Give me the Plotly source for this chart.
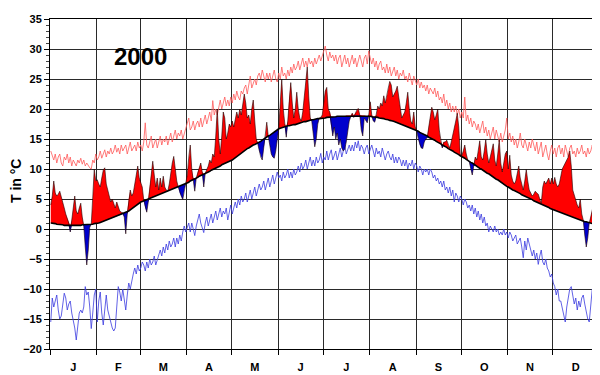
import plotly.graph_objects as go

month_labels = ["J", "F", "M", "A", "M", "J", "J", "A", "S", "O", "N", "D"]
month_starts = [0, 31, 60, 91, 121, 152, 182, 213, 244, 274, 305, 335, 366]
y_ticks = [-20, -15, -10, -5, 0, 5, 10, 15, 20, 25, 30, 35]
year_label = "2000"
y_title = "T in °C"

# long-term mean daily temperature (black line)
clim = [
    1.0, 1.0, 0.9, 0.9, 0.8, 0.8, 0.8, 0.7, 0.7, 0.6,
    0.6, 0.6, 0.5, 0.5, 0.5, 0.5, 0.5, 0.6, 0.6, 0.6,
    0.6, 0.7, 0.7, 0.7, 0.7, 0.7, 0.8, 0.8, 0.8, 0.9,
    0.9, 0.9, 1.0, 1.1, 1.2, 1.3, 1.4, 1.5, 1.5, 1.6,
    1.8, 1.9, 2.0, 2.1, 2.1, 2.2, 2.3, 2.4, 2.5, 2.6,
    2.8, 2.9, 3.0, 3.2, 3.4, 3.6, 3.8, 4.0, 4.2, 4.4,
    4.5, 4.6, 4.7, 4.8, 4.9, 5.0, 5.1, 5.3, 5.4, 5.5,
    5.6, 5.7, 5.7, 5.8, 5.9, 6.0, 6.1, 6.2, 6.3, 6.4,
    6.6, 6.7, 6.8, 6.9, 7.0, 7.0, 7.1, 7.2, 7.3, 7.4,
    7.5, 7.7, 7.8, 8.0, 8.1, 8.2, 8.4, 8.5, 8.6, 8.8,
    8.9, 9.0, 9.2, 9.3, 9.4, 9.5, 9.6, 9.8, 9.9, 10.0,
    10.1, 10.3, 10.4, 10.5, 10.7, 10.8, 10.9, 11.1, 11.2, 11.3,
    11.4, 11.5, 11.7, 11.9, 12.1, 12.3, 12.4, 12.6, 12.8, 13.0,
    13.2, 13.4, 13.5, 13.7, 13.8, 14.0, 14.1, 14.2, 14.4, 14.5,
    14.6, 14.8, 15.0, 15.2, 15.3, 15.5, 15.6, 15.8, 15.9, 16.1,
    16.3, 16.5, 16.7, 16.8, 16.9, 17.0, 17.0, 17.1, 17.2, 17.2,
    17.3, 17.3, 17.4, 17.4, 17.5, 17.5, 17.6, 17.7, 17.8, 17.9,
    17.9, 18.0, 18.0, 18.1, 18.2, 18.2, 18.3, 18.3, 18.4, 18.4,
    18.4, 18.5, 18.5, 18.5, 18.6, 18.6, 18.6, 18.7, 18.7, 18.7,
    18.7, 18.8, 18.8, 18.8, 18.8, 18.8, 18.8, 18.9, 18.9, 18.9,
    18.9, 18.9, 18.9, 18.9, 18.9, 18.9, 18.9, 18.9, 18.9, 18.9,
    18.8, 18.8, 18.8, 18.8, 18.7, 18.7, 18.7, 18.6, 18.6, 18.5,
    18.5, 18.4, 18.4, 18.3, 18.3, 18.2, 18.1, 18.1, 18.0, 17.9,
    17.8, 17.7, 17.6, 17.6, 17.5, 17.4, 17.3, 17.2, 17.1, 17.0,
    16.9, 16.8, 16.7, 16.5, 16.4, 16.3, 16.1, 16.0, 15.9, 15.7,
    15.6, 15.5, 15.3, 15.2, 15.0, 14.9, 14.8, 14.6, 14.5, 14.3,
    14.2, 14.0, 13.9, 13.7, 13.6, 13.4, 13.3, 13.1, 13.0, 12.8,
    12.7, 12.5, 12.4, 12.2, 12.1, 11.9, 11.8, 11.6, 11.4, 11.3,
    11.1, 11.0, 10.8, 10.6, 10.5, 10.3, 10.1, 10.0, 9.8, 9.7,
    9.5, 9.3, 9.2, 9.0, 8.8, 8.7, 8.5, 8.3, 8.2, 8.0,
    7.8, 7.7, 7.5, 7.3, 7.1, 7.0, 6.8, 6.7, 6.5, 6.4,
    6.3, 6.1, 6.0, 5.9, 5.7, 5.6, 5.5, 5.3, 5.2, 5.1,
    5.0, 4.9, 4.7, 4.6, 4.5, 4.4, 4.3, 4.1, 4.0, 3.9,
    3.8, 3.7, 3.6, 3.4, 3.3, 3.2, 3.1, 3.0, 2.9, 2.8,
    2.7, 2.6, 2.5, 2.4, 2.3, 2.2, 2.1, 2.0, 1.9, 1.8,
    1.8, 1.7, 1.6, 1.5, 1.4, 1.3, 1.2, 1.2, 1.1, 1.0,
    1.0, 0.9, 0.9, 0.8, 0.8, 0.8,
]

# daily mean temperature of the year 2000
temp = [
    4.0, 5.5, 8.0, 6.0, 5.5, 5.8, 6.3, 5.5, 4.5, 3.5,
    2.5, 1.8, 1.0, -0.5, 1.5, 3.5, 5.5, 3.0, 2.5, 3.5,
    4.3, 2.0, 0.5, -3.0, -6.0, -3.5, 0.3, 0.8, 5.0, 10.0,
    8.0, 8.2, 7.5, 7.0, 8.5, 9.8, 10.2, 7.5, 6.5, 5.5,
    4.5, 5.0, 4.0, 3.5, 4.5, 3.8, 3.0, 2.8, 2.7, 2.0,
    -0.8, 2.5, 5.0, 6.5, 5.5, 6.0, 7.5, 9.5, 10.5, 8.5,
    7.5, 7.0, 4.8, 3.5, 2.8, 4.5, 7.0, 9.5, 11.3, 9.0,
    7.0, 8.5, 6.5, 8.5, 7.0, 8.8, 7.0, 6.5, 6.3, 7.5,
    9.5, 11.0, 12.1, 10.0, 8.0, 7.0, 6.0, 5.5, 4.9, 6.5,
    7.6, 9.0, 12.0, 14.0, 10.0, 8.5, 6.3, 8.5, 9.5, 10.5,
    11.0, 9.5, 7.0, 9.3, 9.8, 10.5, 11.5, 11.0, 12.5, 12.0,
    15.5, 20.0, 15.0, 12.5, 15.5, 19.5, 18.5, 15.0, 16.0, 17.5,
    17.0, 18.0, 17.0, 18.0, 19.5, 18.5, 20.0, 19.0, 21.0, 22.5,
    21.0, 18.5, 19.0, 17.5, 20.0, 21.5, 18.0, 15.0, 14.2, 13.0,
    12.0, 11.5, 13.5, 15.0, 17.8, 15.5, 14.0, 12.5, 12.0, 11.8,
    13.0, 15.0, 16.7, 21.0, 25.0, 20.0, 17.5, 15.3, 18.0, 22.0,
    24.4, 21.0, 18.5, 20.0, 22.8, 20.0, 18.5, 18.0, 19.5, 22.0,
    25.0, 27.0, 22.0, 18.5, 18.0, 16.0, 13.7, 15.0, 17.5, 18.5,
    18.6, 19.0, 21.0, 23.0, 23.6, 20.0, 19.5, 17.0, 15.5, 17.0,
    15.0, 16.0, 14.0, 15.0, 13.5, 13.0, 13.3, 14.5, 16.5, 18.0,
    18.7, 19.3, 18.6, 19.3, 19.8, 20.1, 19.0, 16.5, 15.5, 18.5,
    18.0, 17.7, 19.0, 21.2, 19.0, 18.0, 17.8, 19.0, 20.5, 20.0,
    21.0, 20.5, 22.2, 21.0, 22.0, 23.5, 24.6, 24.0, 22.0, 22.5,
    23.0, 23.8, 22.0, 20.0, 18.5, 19.0, 19.5, 21.0, 22.8, 20.0,
    18.0, 17.5, 19.5, 17.0, 16.3, 15.0, 14.0, 13.5, 13.4, 14.5,
    15.0, 15.2, 17.0, 19.0, 20.3, 19.5, 18.2, 19.0, 20.0, 16.5,
    14.6, 13.5, 14.5, 14.5, 14.8, 14.0, 13.5, 14.5, 15.5, 16.5,
    18.0, 19.3, 17.0, 12.5, 12.2, 13.0, 14.0, 12.5, 11.5, 11.2,
    10.0, 9.0, 10.5, 12.0, 11.5, 13.0, 14.7, 12.0, 11.5, 13.0,
    14.9, 12.5, 11.0, 12.0, 13.0, 14.2, 11.5, 10.5, 12.5, 14.9,
    11.0, 9.5, 11.0, 12.5, 13.0, 10.0, 12.3, 9.0, 8.0, 7.5,
    8.0, 9.0, 10.5, 8.5, 7.5, 6.5, 8.0, 9.9, 8.0, 6.5,
    6.0, 5.5, 5.8, 6.3, 6.0, 5.8, 5.0, 4.3, 7.0, 8.0,
    7.5, 8.0, 8.5, 7.5, 8.5, 7.5, 8.6, 7.5, 7.0, 7.5,
    9.0, 10.0, 10.5, 11.0, 11.5, 12.0, 13.0, 10.5, 6.5, 5.5,
    5.0, 4.0, 3.5, 5.0, 2.5, 1.5, -1.0, -3.0, -1.5, 1.0,
    2.0, 3.0, 4.3, 1.5, 0.3, 0.5,
]

# highest daily mean on record (thin red line)
rec_max = [
    13.0, 12.0, 11.5, 12.5, 11.0, 12.0, 12.5, 11.0, 10.5, 12.0,
    11.5, 12.5, 11.0, 12.0, 10.5, 11.5, 11.0, 10.5, 11.5, 11.0,
    11.8, 10.8, 11.5, 10.5, 11.0, 10.5, 10.2, 10.0, 11.5, 11.0,
    12.5, 11.5, 12.0, 13.0, 11.8, 12.5, 13.2, 12.0, 13.0, 12.5,
    13.5, 12.5, 13.0, 14.0, 12.8, 13.5, 12.5, 14.0, 13.0, 13.5,
    14.0, 12.5, 13.5, 14.5, 13.0, 13.5, 14.0, 13.0, 14.5, 13.5,
    14.0, 13.0, 14.5, 17.7, 14.0, 13.5, 14.5, 15.5, 13.5, 14.5,
    15.0, 13.5, 14.5, 15.5, 14.0, 15.0, 14.5, 15.5, 14.0, 15.0,
    16.0, 14.5, 15.5, 16.5, 15.0, 16.0, 15.5, 16.5, 15.0, 16.0,
    16.5, 17.5, 18.5, 16.5, 17.0, 18.0, 16.5, 17.5, 18.0, 17.0,
    18.5, 17.0, 18.0, 19.0, 17.5, 18.5, 19.5, 18.0, 21.4, 19.0,
    20.0, 19.0, 20.5, 21.5, 20.0, 21.0, 22.0, 20.5, 21.5, 20.5,
    22.0, 21.0, 22.5, 21.5, 23.0, 22.0, 21.5, 23.0, 22.5, 23.5,
    24.0, 22.5, 24.5, 25.5, 23.5, 24.5, 25.0, 24.0, 25.5, 26.0,
    25.0, 26.5, 25.5, 24.5, 26.0, 25.0, 26.0, 24.5, 25.5, 26.5,
    25.0, 24.5, 26.0, 25.0, 27.0, 25.5, 26.0, 25.0, 26.5, 25.5,
    27.0, 26.0, 27.5, 26.5, 27.0, 28.0, 26.5, 27.5, 28.5, 27.0,
    28.0, 27.0, 28.5, 27.5, 28.0, 27.0, 28.5, 27.5, 28.5, 29.0,
    28.0, 29.0, 29.5, 30.5, 29.0, 28.0, 29.5, 28.5, 29.0, 28.0,
    29.0, 27.5, 28.5, 29.0, 27.0, 28.0, 29.0, 27.5, 28.5, 27.0,
    28.0, 29.0, 27.5, 28.5, 27.0, 28.0, 29.0, 28.0, 27.0, 28.5,
    29.0, 27.5, 29.7, 28.5, 27.5, 28.5, 27.0, 28.0, 26.5, 27.5,
    28.0, 26.5, 27.0, 26.0, 27.5, 26.0, 27.0, 25.5, 26.5, 27.0,
    25.5, 26.5, 25.0, 26.0, 25.5, 26.5, 25.0, 25.5, 24.5, 26.0,
    25.0, 24.0, 25.5, 24.5, 24.0, 25.0, 23.5, 24.5, 23.5, 24.0,
    23.0, 24.0, 22.5, 23.5, 23.0, 22.5, 23.5, 22.0, 23.0, 21.5,
    22.0, 21.0, 22.5, 20.5, 21.5, 20.0, 21.0, 19.5, 20.5, 19.5,
    20.5, 19.0, 20.0, 18.5, 19.5, 18.5, 22.0, 18.0, 19.0, 17.5,
    18.5, 17.0, 18.0, 17.5, 16.5, 17.5, 16.0, 17.0, 18.0, 16.0,
    17.0, 15.5, 16.5, 15.0, 16.0, 17.0, 15.0, 16.5, 15.5, 14.5,
    16.0, 14.5, 15.5, 16.5, 18.5, 15.0, 16.0, 14.5, 15.5, 14.0,
    15.0, 13.5, 14.5, 16.0, 14.0, 13.5, 15.0, 14.0, 13.0, 14.5,
    13.5, 15.0, 14.0, 13.0, 14.5, 12.5, 13.5, 14.5, 12.0, 13.0,
    14.0, 12.5, 11.5, 13.0, 14.0, 12.5, 13.5, 12.0, 13.5, 14.0,
    12.5, 13.5, 12.0, 14.0, 13.0, 12.0, 13.5, 14.0, 12.5, 13.0,
    12.0, 13.5, 12.5, 13.0, 14.0, 12.5, 13.0, 12.0, 13.5, 12.5,
    13.0, 14.0, 12.5, 13.5, 13.0, 14.0,
]

# lowest daily mean on record (thin blue line)
rec_min = [
    -15.5, -11.5, -13.0, -12.0, -11.0, -13.5, -15.0, -14.5, -12.0, -10.7,
    -11.5, -13.5, -12.5, -12.0, -14.0, -15.0, -16.5, -18.5, -16.0, -14.0,
    -13.5, -14.0, -13.0, -9.6, -11.0, -10.5, -13.0, -16.6, -14.0, -11.0,
    -10.0, -15.5, -12.0, -10.5, -14.0, -16.0, -13.5, -11.0, -13.5, -14.5,
    -16.0, -16.5, -17.0, -16.5, -13.0, -9.6, -10.5, -12.0, -10.0, -11.5,
    -13.5, -11.0, -9.0, -10.0, -8.5, -7.5, -6.5, -7.5, -6.0, -7.0,
    -6.5, -5.5, -6.0, -7.0, -5.5, -6.5, -5.0, -6.0, -5.5, -4.5,
    -6.0, -5.0, -4.0, -3.5, -4.5, -3.0, -4.0, -2.5, -3.5, -2.0,
    -3.0, -2.5, -1.5, -3.0, -1.5, -2.5, -1.0, -2.0, -0.5, 0.5,
    -0.5, 0.5, 1.0, -0.5, 1.0, 0.0, -1.1, 0.5, 1.5, 2.5,
    1.0, 0.0, -0.6, 1.0, 2.0, 0.5, 1.5, 2.5, 1.0, 2.0,
    3.0, 1.5, 2.5, 3.5, 2.0, 3.0, 2.5, 3.5, 1.5, 3.0,
    4.0, 2.5, 3.5, 4.5, 3.5, 5.0, 4.0, 5.5, 4.5, 5.0,
    6.0, 4.5, 5.5, 6.5, 5.0, 6.0, 7.0, 5.5, 6.5, 7.5,
    6.5, 7.0, 8.0, 6.5, 7.5, 8.5, 7.0, 8.0, 9.0, 7.5,
    8.5, 9.5, 8.5, 9.0, 8.0, 9.5, 8.5, 9.0, 10.0, 8.5,
    9.5, 8.5, 10.0, 9.0, 9.5, 10.5, 9.5, 11.0, 10.0, 10.5,
    11.5, 10.0, 11.0, 12.0, 10.5, 11.5, 10.5, 12.0, 11.0, 11.5,
    12.6, 11.0, 12.0, 11.5, 13.0, 11.5, 12.5, 13.2, 11.5, 12.5,
    13.0, 11.5, 12.5, 13.5, 12.0, 13.0, 14.0, 12.5, 13.5, 14.0,
    13.0, 14.0, 13.0, 14.5, 13.5, 14.7, 13.0, 14.0, 13.5, 12.5,
    13.5, 14.0, 12.5, 13.5, 14.0, 13.0, 12.0, 13.5, 12.5, 13.0,
    12.0, 13.5, 12.5, 11.5, 12.5, 13.0, 12.0, 11.5, 12.5, 11.0,
    12.0, 11.0, 12.0, 11.5, 10.5, 11.5, 10.5, 11.5, 10.0, 11.0,
    10.5, 11.5, 10.0, 11.0, 10.5, 9.5, 10.5, 10.0, 9.0, 10.0,
    9.5, 10.0, 9.0, 10.0, 9.5, 8.5, 9.0, 8.0, 8.5, 7.5,
    8.0, 7.0, 8.0, 6.5, 7.0, 6.0, 7.0, 5.5, 6.5, 4.5,
    6.0, 5.5, 4.5, 5.5, 5.0, 4.0, 5.0, 4.5, 3.5, 4.0,
    3.0, 4.0, 2.5, 3.5, 2.0, 3.0, 1.5, 2.5, 1.0, 2.0,
    0.5, 1.0, -0.5, 0.5, 0.0, -0.5, 0.5, -0.5, 0.0, -1.0,
    -0.5, -1.0, 0.0, -1.0, -0.5, -1.5, -0.5, -1.0, -2.0, -1.5,
    -1.0, -2.5, -2.0, -1.5, -3.0, -4.8, -2.0, -3.5, -1.5, -2.5,
    -3.5, -4.5, -3.5, -5.0, -4.0, -5.9, -4.5, -3.5, -5.5, -6.0,
    -5.0, -6.5, -7.0, -8.0, -7.5, -9.0, -9.6, -11.0, -10.0, -12.0,
    -12.0, -13.0, -14.5, -15.5, -13.0, -11.0, -10.0, -9.6, -11.5, -12.5,
    -11.5, -13.5, -12.0, -13.0, -11.5, -11.0, -12.5, -14.0, -15.0, -15.5,
    -12.0, -10.0, -11.5, -13.0, -12.0, -10.7,
]

n = len(clim)
for name, arr in (("temp", temp), ("rec_max", rec_max), ("rec_min", rec_min)):
    assert len(arr) == n, (name, len(arr), n)

days = [i + 0.5 for i in range(n)]
above = [max(t, c) for t, c in zip(temp, clim)]
below = [min(t, c) for t, c in zip(temp, clim)]
month_mids = [(a + b) / 2 for a, b in zip(month_starts[:-1], month_starts[1:])]

FONT = "Liberation Sans, Arial, sans-serif"

fig = go.Figure()
common = dict(mode="lines", hoverinfo="skip", showlegend=False)
fig.add_trace(go.Scatter(x=days, y=rec_max, line=dict(color="#FF5A5A", width=0.8), **common))
fig.add_trace(go.Scatter(x=days, y=rec_min, line=dict(color="#3A3AE0", width=0.8), **common))
fig.add_trace(go.Scatter(x=days, y=clim, line=dict(width=0, color="rgba(0,0,0,0)"), **common))
fig.add_trace(go.Scatter(x=days, y=above, line=dict(width=0, color="rgba(0,0,0,0)"),
                         fill="tonexty", fillcolor="#FF0000", **common))
fig.add_trace(go.Scatter(x=days, y=clim, line=dict(width=0, color="rgba(0,0,0,0)"), **common))
fig.add_trace(go.Scatter(x=days, y=below, line=dict(width=0, color="rgba(0,0,0,0)"),
                         fill="tonexty", fillcolor="#0000CC", **common))
fig.add_trace(go.Scatter(x=days, y=temp, line=dict(color="#200000", width=0.6), **common))
fig.add_trace(go.Scatter(x=days, y=clim, line=dict(color="black", width=1.6), **common))

# the page body adds an 8px offset, so the margins compensate for it
fig.update_layout(
    width=600, height=375,
    margin=dict(l=42, r=9, t=5, b=34),
    plot_bgcolor="white", paper_bgcolor="white",
    showlegend=False,
    xaxis=dict(
        range=[0, month_starts[-1]], tickmode="array", tickvals=month_mids, ticktext=month_labels,
        ticks="", showgrid=False, zeroline=False,
        showline=True, linecolor="black", linewidth=1, mirror=True,
        tickfont=dict(family=FONT, size=11, color="black", weight="bold"),
        ticklabelstandoff=8,
        minor=dict(tickmode="array", tickvals=month_starts, ticks="outside", ticklen=5,
                   tickcolor="black", showgrid=True, gridcolor="#2a2a2a", gridwidth=1),
    ),
    yaxis=dict(
        range=[-20, 35], tickmode="array", tickvals=y_ticks,
        ticks="outside", ticklen=5, tickcolor="black",
        showgrid=True, gridcolor="#2a2a2a", gridwidth=1, zeroline=False,
        showline=True, linecolor="black", linewidth=1,
        ticklabeloverflow="allow",
        tickfont=dict(family=FONT, size=11, color="black", weight="bold"),
        minor=dict(dtick=1, tick0=0, ticks="outside", ticklen=3, tickcolor="#444", showgrid=False),
    ),
    annotations=[
        dict(text=year_label, xref="paper", yref="paper", x=0.164, y=0.885,
             showarrow=False, font=dict(family=FONT, size=24, color="black", weight="bold"),
             xanchor="center", yanchor="middle"),
        dict(text=y_title, xref="paper", yref="paper", x=-0.0619, y=0.509, textangle=-90,
             showarrow=False, font=dict(family=FONT, size=14, color="black", weight="bold"),
             xanchor="center", yanchor="middle"),
    ],
)

fig.write_html("out.html")
